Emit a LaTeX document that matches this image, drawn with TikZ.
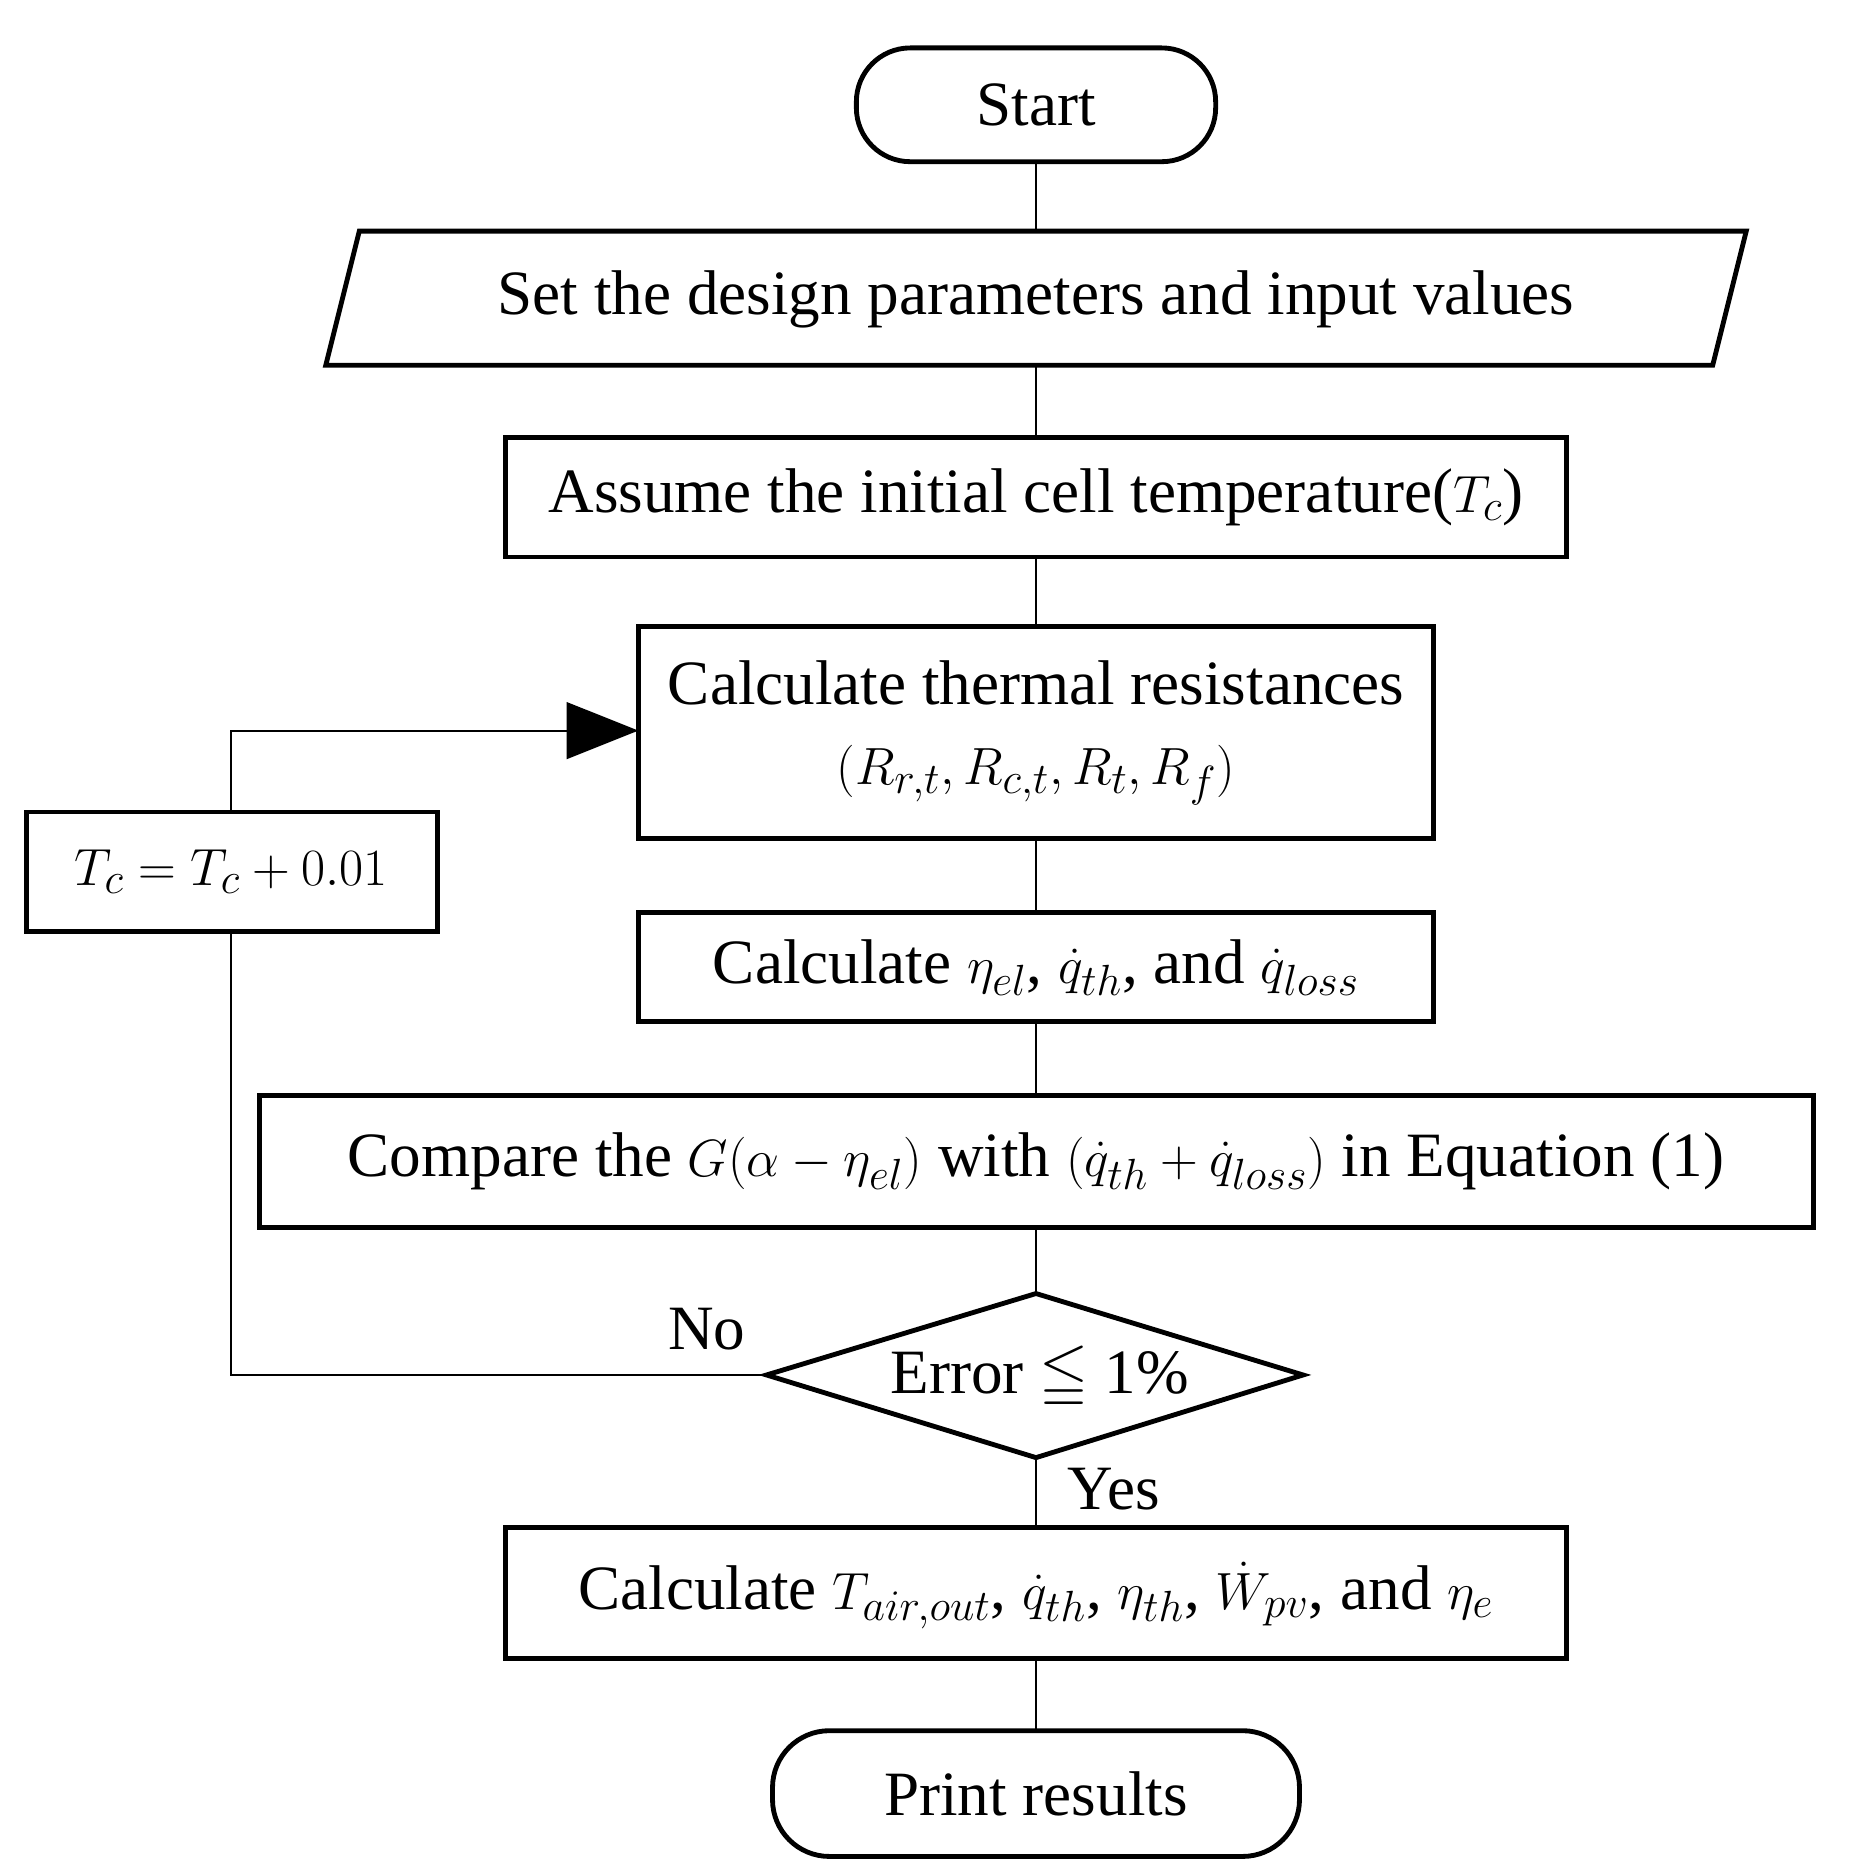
\documentclass[tikz,border=0pt]{standalone}
\usepackage{amsmath,amssymb}
\usepackage{fontspec}
\setmainfont{Liberation Serif}
\usetikzlibrary{shapes.geometric,arrows.meta}
\begin{document}
\begin{tikzpicture}[x=0.02cm,y=-0.02cm,
  box/.style={draw,line width=2.3pt,inner sep=0pt},
  conn/.style={line width=0.9pt},
  txt/.style={font=\fontsize{30}{38}\selectfont,align=center}]
\useasboundingbox (0,0) rectangle (1550,1563);
% shapes
\draw[box,rounded corners=0.9cm] (715,40) rectangle (1015,135);
\node[txt] (start) at (865,88) {Start};
\draw[box] (300,193) -- (1458,193) -- (1430,305) -- (272,305) -- cycle;
\node[txt] (set) at (865,250) {Set the design parameters and input values};
\draw[box] (422,365) rectangle (1308,465);
\node[txt] (assume) at (865,415) {Assume the initial cell temperature($T_c$)};
\draw[box] (533,523) rectangle (1197,700);
\node[txt] (therm) at (865,612) {Calculate thermal resistances\\$(R_{r,t},R_{c,t},R_t,R_f)$};
\draw[box] (533,762) rectangle (1197,853);
\node[txt] (eta) at (865,808) {Calculate $\eta_{el}$, $\dot{q}_{th}$, and $\dot{q}_{loss}$};
\draw[box] (217,915) rectangle (1514,1025);
\node[txt] (comp) at (865,970) {Compare the $G(\alpha-\eta_{el})$ with $(\dot{q}_{th}+\dot{q}_{loss})$ in Equation (1)};
\draw[box] (640,1148) -- (865,1080) -- (1088,1148) -- (865,1217) -- cycle;
\node[txt] (err) at (868,1150) {Error $\leqq$ 1\%};
\draw[box] (422,1275) rectangle (1308,1385);
\node[txt] (calc) at (865,1332) {Calculate $T_{air,out}$, $\dot{q}_{th}$, $\eta_{th}$, $\dot{W}_{pv}$, and $\eta_e$};
\draw[box,rounded corners=0.95cm] (645,1445) rectangle (1085,1550);
\node[txt] (print) at (865,1498) {Print results};
\draw[box] (22,678) rectangle (365,778);
\node[txt] (tc) at (193,728) {$T_c=T_c+0.01$};
% coordinates
\coordinate (a1) at (865,135); \coordinate (a2) at (865,193);
\coordinate (b1) at (865,305); \coordinate (b2) at (865,365);
\coordinate (c1) at (865,465); \coordinate (c2) at (865,523);
\coordinate (d1) at (865,700); \coordinate (d2) at (865,762);
\coordinate (e1) at (865,853); \coordinate (e2) at (865,915);
\coordinate (f1) at (865,1025); \coordinate (f2) at (865,1080);
\coordinate (g1) at (865,1217); \coordinate (g2) at (865,1275);
\coordinate (h1) at (865,1385); \coordinate (h2) at (865,1445);
\coordinate (dl) at (640,1148); \coordinate (lc) at (193,1148);
\coordinate (tb) at (193,778); \coordinate (tt) at (193,678);
\coordinate (lt) at (193,610); \coordinate (ar) at (533,610);
\draw[conn] (a1)--(a2) (b1)--(b2) (c1)--(c2) (d1)--(d2) (e1)--(e2) (f1)--(f2) (g1)--(g2) (h1)--(h2);
\draw[conn] (dl)--(lc)--(tb);
\draw[conn,-{Triangle[length=1.2cm,width=0.95cm]}] (tt)--(lt)--(ar);
\node[txt] (no) at (590,1110) {No};
\node[txt] (yes) at (930,1243) {Yes};
\end{tikzpicture}
\end{document}
